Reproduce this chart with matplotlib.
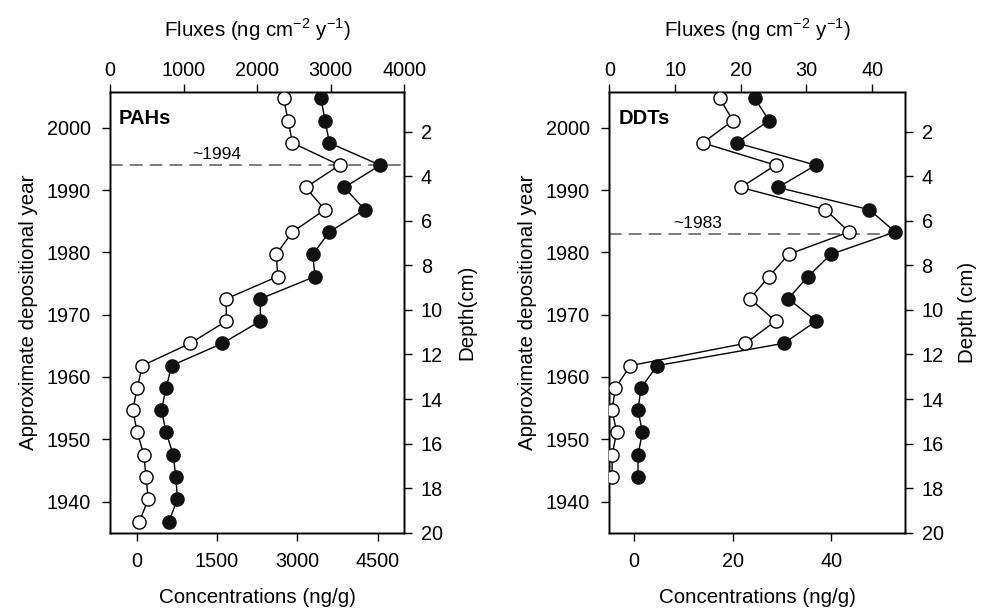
import matplotlib
matplotlib.use("Agg")
import matplotlib.pyplot as plt
import numpy as np

plt.rcParams['font.family'] = ['Liberation Sans', 'DejaVu Sans']
plt.rcParams['mathtext.fontset'] = 'custom'
plt.rcParams['mathtext.rm'] = 'Liberation Sans'
plt.rcParams['axes.linewidth'] = 1.0

# depth of each slice (cm)
pah_depth = np.arange(0.5, 20, 1.0)
ddt_depth = np.arange(0.5, 18, 1.0)

# PAHs: open = fluxes (top axis), filled = concentrations (bottom axis)
pah_flux = [2360, 2420, 2480, 3120, 2660, 2920, 2480, 2260, 2280, 1580,
            1580, 1090, 440, 370, 310, 370, 460, 490, 520, 400]
pah_conc = [3440, 3520, 3600, 4550, 3880, 4260, 3600, 3290, 3330, 2310,
            2310, 1600, 650, 550, 460, 550, 680, 730, 760, 600]

# DDTs
ddt_flux = [16.8, 18.8, 14.2, 25.3, 20.0, 32.9, 36.5, 27.3, 24.3, 21.4,
            25.3, 20.7, 3.2, 0.9, 0.4, 1.1, 0.4, 0.4]
ddt_conc = [24.5, 27.4, 20.8, 36.9, 29.2, 47.8, 53.0, 40.0, 35.3, 31.3,
            37.0, 30.4, 4.7, 1.4, 0.8, 1.7, 0.8, 0.8]

year_ticks = [1940, 1950, 1960, 1970, 1980, 1990, 2000]
depth_ticks = [2, 4, 6, 8, 10, 12, 14, 16, 18, 20]

FS = 14.3
LFS = 14.8


def panel(rect, name, depth, flux, conc, conc_lim, conc_ticks, flux_lim,
          flux_ticks, mark_year, mark_x, depth_label):
    ax = fig.add_axes(rect)
    ax.set_xlim(*conc_lim)
    ax.set_ylim(1935.0, 2005.8)
    ax.set_xticks(conc_ticks)
    ax.set_yticks(year_ticks)
    ax.tick_params(direction='out', length=6, width=1, labelsize=FS, pad=8)
    ax.set_xlabel('Concentrations (ng/g)', fontsize=LFS, labelpad=12)
    ax.set_ylabel('Approximate depositional year', fontsize=LFS, labelpad=6)
    ax.axhline(mark_year, color='#707070', lw=1.3, dashes=(7, 4), zorder=1)
    ax.annotate('~%d' % mark_year, xy=(mark_x, mark_year), xytext=(0, 2),
                textcoords='offset points', ha='center', va='bottom',
                fontsize=12.5)
    ax.text(0.03, 0.96, name, transform=ax.transAxes, fontsize=14.5,
            fontweight='bold', ha='left', va='top')

    axd = ax.twinx()
    axd.set_ylim(20, 0.2)
    axd.set_yticks(depth_ticks)
    axd.tick_params(direction='out', length=6, width=1, labelsize=FS, pad=6)
    axd.set_ylabel(depth_label, fontsize=LFS, labelpad=10)
    axd.plot(conc, depth, color='black', lw=1, marker='o', ms=9.5,
             mfc='#111111', mec='#111111', zorder=3)

    axf = axd.twiny()
    axf.set_xlim(*flux_lim)
    axf.set_xticks(flux_ticks)
    axf.tick_params(direction='out', length=6, width=1, labelsize=FS, pad=2.5)
    axf.set_xlabel('Fluxes (ng cm$^{\\mathregular{-2}}$ y$^{\\mathregular{-1}}$)',
                   fontsize=LFS, labelpad=17)
    axf.plot(flux, depth, color='black', lw=1, marker='o', ms=9.5,
             mfc='white', mec='black', mew=1, zorder=3)
    return ax


fig = plt.figure(figsize=(9.83, 6.11), dpi=100)

panel([0.1119, 0.1282, 0.2994, 0.7218], 'PAHs', pah_depth, pah_flux, pah_conc,
      (-500, 5000), [0, 1500, 3000, 4500], (0, 4000),
      [0, 1000, 2000, 3000, 4000], 1994, 1500, 'Depth(cm)')
panel([0.6200, 0.1282, 0.3006, 0.7218], 'DDTs', ddt_depth, ddt_flux, ddt_conc,
      (-5, 55), [0, 20, 40], (0, 45),
      [0, 10, 20, 30, 40], 1983, 13, 'Depth (cm)')

fig.savefig('out.png', dpi=100)
